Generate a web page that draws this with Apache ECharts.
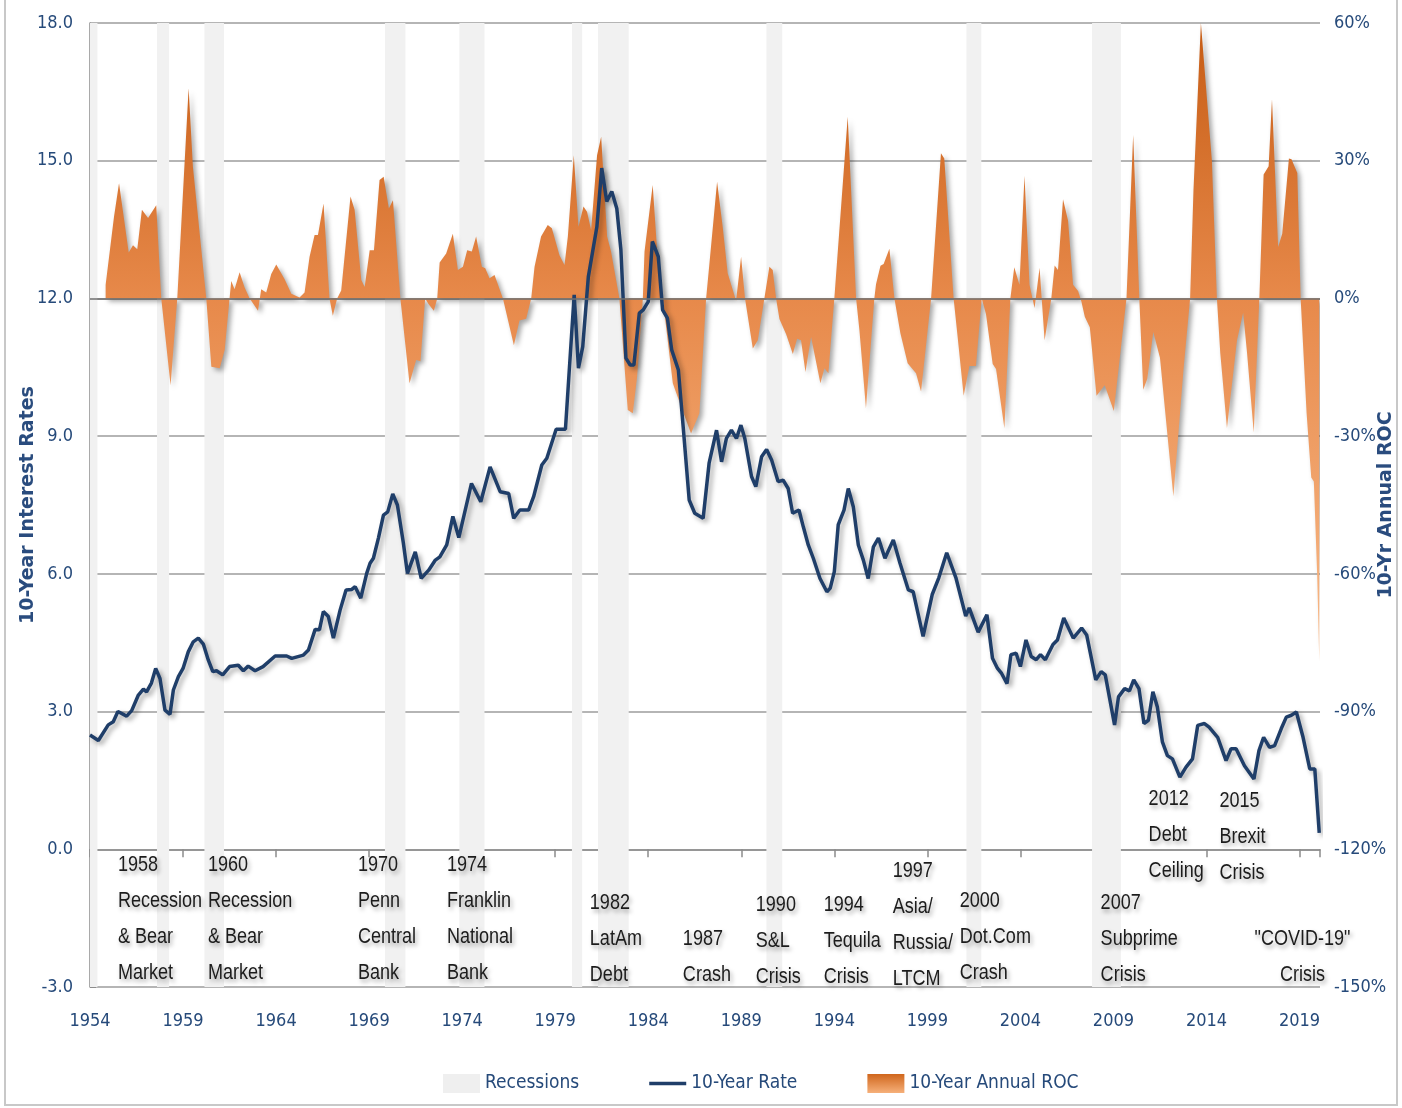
<!DOCTYPE html>
<html>
<head>
<meta charset="utf-8">
<title>10-Year Rate and 10-Year Annual ROC</title>
<script src="https://cdn.jsdelivr.net/npm/echarts@6.0.0/dist/echarts.min.js"></script>
<style>
  html, body { margin: 0; padding: 0; background: #ffffff; }
  #chart { width: 1402px; height: 1108px; }
</style>
</head>
<body>
<div id="chart"></div>
<script>
var BASE_YEAR = 1954;
var LAST_YEAR = 2020.1;

// 10-year treasury rate (%)
var rateYears = [1954.0, 1954.45, 1954.98, 1955.25, 1955.5, 1955.97, 1956.24, 1956.6, 1956.87, 1957.04, 1957.3, 1957.53, 1957.76, 1958.03, 1958.3, 1958.48, 1958.75, 1959.0, 1959.28, 1959.55, 1959.82, 1960.09, 1960.36, 1960.6, 1960.8, 1961.13, 1961.5, 1961.97, 1962.24, 1962.5, 1962.87, 1963.3, 1963.95, 1964.57, 1964.84, 1965.47, 1965.74, 1966.1, 1966.33, 1966.54, 1966.81, 1967.08, 1967.44, 1967.76, 1968.07, 1968.25, 1968.55, 1968.87, 1969.05, 1969.23, 1969.5, 1969.77, 1970.0, 1970.27, 1970.52, 1970.84, 1971.06, 1971.48, 1971.8, 1972.2, 1972.56, 1972.8, 1973.17, 1973.5, 1973.82, 1974.5, 1975.0, 1975.5, 1976.04, 1976.5, 1976.77, 1977.1, 1977.57, 1977.84, 1978.28, 1978.55, 1979.05, 1979.55, 1980.02, 1980.25, 1980.48, 1980.78, 1981.24, 1981.5, 1981.77, 1982.04, 1982.31, 1982.53, 1982.8, 1983.03, 1983.23, 1983.52, 1983.73, 1984.0, 1984.22, 1984.54, 1984.77, 1985.03, 1985.26, 1985.62, 1985.88, 1986.2, 1986.5, 1986.95, 1987.27, 1987.67, 1987.94, 1988.2, 1988.47, 1988.74, 1988.98, 1989.19, 1989.55, 1989.78, 1990.09, 1990.36, 1990.63, 1990.98, 1991.25, 1991.52, 1991.76, 1992.1, 1992.33, 1992.6, 1992.87, 1993.23, 1993.6, 1993.78, 1994.0, 1994.21, 1994.52, 1994.75, 1995.02, 1995.29, 1995.56, 1995.82, 1996.1, 1996.37, 1996.72, 1997.17, 1997.53, 1997.98, 1998.24, 1998.77, 1999.26, 1999.62, 2000.04, 2000.53, 2001.06, 2001.25, 2001.73, 2002.2, 2002.5, 2002.77, 2002.99, 2003.28, 2003.49, 2003.77, 2004.0, 2004.3, 2004.58, 2004.85, 2005.08, 2005.34, 2005.75, 2005.99, 2006.33, 2006.84, 2007.29, 2007.56, 2008.05, 2008.34, 2008.56, 2009.06, 2009.27, 2009.6, 2009.86, 2010.09, 2010.37, 2010.64, 2010.88, 2011.12, 2011.36, 2011.63, 2011.9, 2012.17, 2012.57, 2012.9, 2013.25, 2013.53, 2013.89, 2014.14, 2014.6, 2015.05, 2015.32, 2015.59, 2016.04, 2016.55, 2016.82, 2017.07, 2017.39, 2017.66, 2018.02, 2018.29, 2018.56, 2018.83, 2019.19, 2019.55, 2019.82, 2020.06];
var rateValues = [2.49, 2.37, 2.71, 2.78, 3.00, 2.90, 3.02, 3.36, 3.49, 3.43, 3.62, 3.94, 3.72, 3.03, 2.94, 3.47, 3.76, 3.94, 4.30, 4.52, 4.60, 4.47, 4.12, 3.87, 3.89, 3.80, 3.98, 4.01, 3.89, 3.99, 3.89, 3.98, 4.21, 4.21, 4.16, 4.23, 4.34, 4.79, 4.78, 5.18, 5.07, 4.60, 5.21, 5.65, 5.66, 5.72, 5.47, 6.01, 6.23, 6.34, 6.78, 7.28, 7.35, 7.74, 7.50, 6.67, 6.01, 6.48, 5.90, 6.08, 6.30, 6.37, 6.63, 7.25, 6.79, 7.97, 7.57, 8.33, 7.79, 7.75, 7.21, 7.39, 7.39, 7.68, 8.37, 8.52, 9.15, 9.15, 12.08, 10.48, 10.95, 12.47, 13.56, 14.84, 14.11, 14.33, 13.96, 13.06, 10.70, 10.55, 10.55, 11.68, 11.75, 11.93, 13.24, 12.91, 11.75, 11.57, 10.88, 10.44, 9.19, 7.61, 7.32, 7.21, 8.41, 9.13, 8.44, 8.95, 9.13, 8.95, 9.24, 8.95, 8.12, 7.90, 8.55, 8.71, 8.48, 8.01, 8.04, 7.86, 7.32, 7.39, 7.03, 6.63, 6.34, 5.90, 5.61, 5.69, 6.05, 7.07, 7.39, 7.86, 7.46, 6.63, 6.30, 5.90, 6.59, 6.78, 6.34, 6.74, 6.23, 5.65, 5.61, 4.64, 5.55, 5.92, 6.46, 5.92, 5.08, 5.26, 4.73, 5.11, 4.16, 3.94, 3.83, 3.61, 4.24, 4.27, 3.98, 4.56, 4.20, 4.13, 4.24, 4.13, 4.46, 4.56, 5.04, 4.60, 4.82, 4.67, 3.69, 3.87, 3.80, 2.71, 3.32, 3.50, 3.45, 3.69, 3.50, 2.74, 2.81, 3.43, 3.10, 2.34, 2.04, 1.97, 1.57, 1.79, 1.97, 2.70, 2.74, 2.66, 2.44, 1.93, 2.19, 2.19, 1.82, 1.53, 2.15, 2.44, 2.22, 2.26, 2.63, 2.88, 2.92, 2.99, 2.44, 1.75, 1.75, 0.36];

// 10-year annual rate of change (%)
var rocYears = [1954.84, 1955.29, 1955.56, 1956.08, 1956.31, 1956.54, 1956.79, 1957.12, 1957.56, 1957.83, 1958.33, 1958.69, 1959.3, 1959.53, 1960.25, 1960.52, 1960.97, 1961.24, 1961.5, 1961.59, 1961.77, 1962.04, 1962.31, 1962.58, 1963.03, 1963.2, 1963.47, 1963.74, 1964.01, 1964.46, 1964.82, 1965.26, 1965.53, 1965.8, 1966.07, 1966.25, 1966.55, 1966.87, 1967.05, 1967.28, 1967.5, 1968.0, 1968.22, 1968.58, 1968.76, 1969.03, 1969.26, 1969.56, 1969.78, 1970.06, 1970.28, 1970.68, 1971.17, 1971.53, 1971.76, 1972.01, 1972.19, 1972.48, 1972.66, 1972.79, 1973.14, 1973.5, 1973.77, 1974.04, 1974.27, 1974.52, 1974.75, 1975.06, 1975.24, 1975.47, 1975.74, 1975.96, 1976.19, 1976.78, 1977.08, 1977.44, 1977.71, 1977.89, 1978.24, 1978.6, 1978.82, 1979.23, 1979.5, 1979.68, 1980.0, 1980.25, 1980.52, 1980.71, 1980.93, 1981.25, 1981.47, 1981.79, 1982.0, 1982.45, 1982.9, 1983.17, 1983.4, 1983.71, 1983.8, 1984.24, 1984.51, 1984.78, 1985.32, 1985.77, 1986.3, 1986.75, 1987.11, 1987.25, 1987.7, 1988.0, 1988.27, 1988.72, 1988.99, 1989.2, 1989.62, 1989.89, 1990.24, 1990.51, 1990.69, 1990.87, 1991.05, 1991.41, 1991.77, 1992.0, 1992.21, 1992.45, 1992.75, 1993.25, 1993.47, 1993.68, 1994.0, 1994.72, 1995.17, 1995.35, 1995.7, 1996.15, 1996.24, 1996.48, 1996.65, 1996.96, 1997.23, 1997.55, 1997.94, 1998.39, 1998.66, 1999.2, 1999.73, 1999.91, 2000.41, 2000.63, 2000.95, 2001.26, 2001.61, 2001.92, 2002.15, 2002.51, 2002.69, 2003.14, 2003.46, 2003.67, 2003.95, 2004.22, 2004.49, 2004.76, 2005.03, 2005.3, 2005.66, 2005.84, 2006.02, 2006.29, 2006.56, 2006.83, 2007.1, 2007.28, 2007.46, 2007.73, 2008.09, 2008.53, 2009.02, 2009.7, 2010.06, 2010.39, 2010.6, 2010.82, 2011.14, 2011.5, 2012.22, 2012.76, 2013.12, 2013.3, 2013.7, 2014.29, 2014.56, 2014.74, 2015.1, 2015.64, 2015.97, 2016.18, 2016.54, 2016.84, 2017.07, 2017.34, 2017.52, 2017.85, 2018.07, 2018.43, 2018.57, 2018.88, 2019.06, 2019.38, 2019.63, 2019.77, 2019.95, 2020.06];
var rocValues = [3.0, 17.8, 25.1, 10.0, 11.6, 10.7, 19.3, 17.5, 20.3, 0, -18.9, 0, 45.8, 28.7, 0, -14.9, -15.2, -11.2, 0, 3.8, 2.0, 5.7, 2.4, 0, -2.7, 2.0, 1.3, 5.3, 7.4, 4.2, 1.0, 0.2, 1.3, 9.1, 13.8, 13.8, 20.7, 0, -3.8, 0, 1.7, 22.2, 19.3, 4.0, 2.5, 10.5, 10.5, 25.8, 26.5, 19.6, 21.4, 0, -18.5, -13.4, -13.7, 0, -1.2, -2.7, 0, 7.8, 9.8, 14.1, 6.2, 6.9, 10.5, 10.2, 13.5, 6.9, 6.6, 4.4, 5.1, 2.6, 0, -10.2, -4.8, -4.4, 0, 6.9, 13.5, 16.0, 15.3, 9.4, 7.3, 13.5, 31.2, 15.6, 20.0, 18.9, 14.9, 31.2, 35.2, 13.5, 10.2, 0, -24.3, -25.0, -17.1, 0, 10.2, 24.7, 8.4, 0, -18.5, -23.6, -29.4, -25.0, 0, 6.0, 25.4, 15.6, 5.5, -0.5, 9.1, 0, -10.9, -9.1, 0, 6.9, 6.2, 0, -4.5, -7.8, -12.1, -8.8, -9.1, -16.0, -8.4, -18.5, -15.2, -16.3, 0, 39.6, 0, -7.0, -23.9, 0, 3.1, 7.1, 7.5, 10.8, 0, -7.6, -14.1, -16.3, -20.3, 0, 31.6, 30.5, 0, -8.5, -21.2, -14.7, -14.7, 0, -3.4, -14.3, -15.4, -28.3, 0, 6.8, 3.0, 26.7, 3.0, -2.1, 6.7, -9.1, 0, 7.2, 6.2, 21.6, 17.0, 3.0, 1.6, -0.7, -4.0, -6.3, -21.2, -18.9, -24.5, 0, 35.6, 0, -19.9, -17.5, -7.3, -12.9, -43.1, -15.7, 0, 23.5, 60, 30, 0, -11.9, -28.2, -9.1, -3.1, -11.9, -29.2, 0, 27.0, 28.8, 43.4, 11.2, 14.1, 30.5, 30.3, 27.3, 0, -25.0, -39.0, -39.9, -60.4, -79.0];

// recession periods (start, end)
var recessionStarts = [1954.0, 1957.6, 1960.15, 1969.85, 1973.85, 1979.9, 1981.3, 1990.35, 2001.1, 2007.85];
var recessionEnds   = [1954.4, 1958.25, 1961.2, 1970.95, 1975.2, 1980.45, 1982.95, 1991.2, 2001.9, 2009.4];

// event annotations: x in years, top of text block on the rate axis
var annoYears  = [1955.5, 1960.34, 1968.4, 1973.18, 1980.86, 1985.86, 1989.78, 1993.43, 1997.14, 2000.74, 2008.31, 2010.89, 2014.7, 2019.16];
var annoLevels = [0.05, 0.05, 0.05, 0.05, -0.78, -1.56, -0.82, -0.82, -0.08, -0.73, -0.78, 1.49, 1.45, -1.56];
var annoTexts  = [
  '1958\nRecession\n& Bear\nMarket',
  '1960\nRecession\n& Bear\nMarket',
  '1970\nPenn\nCentral\nBank',
  '1974\nFranklin\nNational\nBank',
  '1982\nLatAm\nDebt',
  '1987\nCrash',
  '1990\nS&L\nCrisis',
  '1994\nTequila\nCrisis',
  '1997\nAsia/\nRussia/\nLTCM',
  '2000\nDot.Com\nCrash',
  '2007\nSubprime\nCrisis',
  '2012\nDebt\nCeiling',
  '2015\nBrexit\nCrisis',
  '"COVID-19"\nCrisis'
];
var annoAlign = ['left', 'left', 'left', 'left', 'left', 'left', 'left', 'left', 'left', 'left', 'left', 'left', 'left', 'center'];

var NARROW = "'DejaVu Sans Condensed', 'Liberation Sans', sans-serif";
var BLUE = '#264a7a';
var LINE_BLUE = '#1f3e69';

function toX(y) { return +(y - BASE_YEAR).toFixed(3); }

var rateData = rateYears.map(function (y, i) { return [toX(y), rateValues[i]]; });
var rocData = rocYears.map(function (y, i) { return [toX(y), rocValues[i]]; });
var recessionAreas = recessionStarts.map(function (s, i) {
  return [{ xAxis: toX(s) }, { xAxis: toX(recessionEnds[i]) }];
});
var annoData = annoYears.map(function (y, i) { return [toX(y), annoLevels[i], i]; });

var rocGradient = new echarts.graphic.LinearGradient(0, 0, 0, 1, [
  { offset: 0, color: '#c65c14' },
  { offset: 0.43, color: '#e7894a' },
  { offset: 1, color: '#f9bb8a' }
]);
var legendGradient = new echarts.graphic.LinearGradient(0, 0, 0, 1, [
  { offset: 0, color: '#d0661c' },
  { offset: 1, color: '#f6b07a' }
]);

// event notes: narrow text, placed through the axes
function renderNote(params, api) {
  var p = api.coord([api.value(0), api.value(1)]);
  var i = api.value(2);
  return {
    type: 'text',
    x: p[0],
    y: p[1],
    scaleX: 0.82,
    silent: true,
    style: {
      text: annoTexts[i],
      align: annoAlign[i],
      verticalAlign: 'top',
      fontFamily: 'Liberation Sans',
      fontSize: 22,
      lineHeight: 36,
      fill: '#1c1c1c',
      textShadowColor: 'rgba(0,0,0,0.35)',
      textShadowBlur: 4,
      textShadowOffsetX: 2,
      textShadowOffsetY: 3
    }
  };
}

var chart = echarts.init(document.getElementById('chart'));
chart.setOption({
  backgroundColor: '#ffffff',
  animation: false,
  grid: { left: 90, right: 82, top: 23, bottom: 121, containLabel: false, outerBoundsMode: 'none' },
  graphic: [{
    type: 'polyline',
    shape: { points: [[5, 0], [5, 1105], [1397, 1105], [1397, 0]] },
    style: { stroke: '#c8c8c8', lineWidth: 2, fill: null },
    silent: true
  }],
  legend: {
    left: 438,
    top: 1069,
    itemWidth: 37,
    itemHeight: 19,
    itemGap: 70,
    textStyle: { fontFamily: NARROW, fontSize: 19, color: BLUE },
    data: [
      { name: 'Recessions', icon: 'rect', itemStyle: { color: '#efefef' } },
      { name: '10-Year Rate', icon: 'path://M0,0H40V4H0Z', itemStyle: { color: LINE_BLUE } },
      { name: '10-Year Annual ROC', icon: 'rect', itemStyle: { color: legendGradient } }
    ]
  },
  xAxis: [{
    type: 'value',
    min: 0,
    max: LAST_YEAR - BASE_YEAR,
    interval: 5,
    position: 'bottom',
    axisLine: { show: false, onZero: false },
    axisTick: { show: false },
    splitLine: { show: false },
    axisLabel: {
      showMaxLabel: false,
      margin: 25,
      fontFamily: NARROW,
      fontSize: 18,
      color: BLUE,
      formatter: function (v) { return String(BASE_YEAR + v); }
    }
  }, {
    type: 'value',
    min: 0,
    max: LAST_YEAR - BASE_YEAR,
    interval: 5,
    position: 'bottom',
    axisLine: { show: true, onZero: true, onZeroAxisIndex: 0, lineStyle: { color: '#8c8c8c', width: 1.5 } },
    axisTick: { show: true, length: 8, lineStyle: { color: '#8c8c8c', width: 1.5 } },
    axisLabel: { show: false },
    splitLine: { show: false }
  }],
  yAxis: [{
    type: 'value',
    min: -3,
    max: 18,
    interval: 3,
    name: '10-Year Interest Rates',
    nameLocation: 'middle',
    nameRotate: 90,
    nameGap: 52,
    nameMoveOverlap: false,
    nameTextStyle: { fontFamily: 'DejaVu Sans', fontWeight: 'bold', fontSize: 19, color: '#2a4c7e' },
    axisLine: { show: false },
    axisTick: { show: false },
    splitLine: { lineStyle: { color: '#9c9c9c', width: 1.5 } },
    axisLabel: {
      margin: 17,
      fontFamily: NARROW,
      fontSize: 18,
      color: BLUE,
      formatter: function (v) { return v.toFixed(1); }
    }
  }, {
    type: 'value',
    min: -150,
    max: 60,
    interval: 30,
    position: 'right',
    name: '10-Yr Annual ROC',
    nameLocation: 'middle',
    nameRotate: 90,
    nameGap: 57,
    nameMoveOverlap: false,
    nameTextStyle: { fontFamily: 'DejaVu Sans', fontWeight: 'bold', fontSize: 19, color: '#2a4c7e' },
    axisLine: { show: true, lineStyle: { color: '#8c8c8c', width: 1.5 } },
    axisTick: { show: true, length: 6, lineStyle: { color: '#8c8c8c' } },
    splitLine: { show: false },
    axisLabel: {
      margin: 14,
      fontFamily: NARROW,
      fontSize: 18,
      color: BLUE,
      formatter: '{value}%'
    }
  }],
  series: [{
    name: 'Recessions',
    type: 'line',
    data: [],
    itemStyle: { color: '#efefef' },
    markArea: {
      silent: true,
      itemStyle: { color: '#f1f1f1' },
      data: recessionAreas
    }
  }, {
    name: '10-Year Annual ROC',
    type: 'line',
    yAxisIndex: 1,
    data: rocData,
    symbol: 'none',
    lineStyle: { width: 0 },
    itemStyle: { color: '#e7894a' },
    areaStyle: {
      origin: 0,
      color: rocGradient,
      opacity: 1,
      shadowColor: 'rgba(0,0,0,0.35)',
      shadowBlur: 5,
      shadowOffsetX: 3,
      shadowOffsetY: 3
    },
    markLine: {
      silent: true,
      symbol: 'none',
      label: { show: false },
      lineStyle: { color: '#6f6f6f', width: 1.5, type: 'solid' },
      data: [{ yAxis: 0 }]
    }
  }, {
    name: '10-Year Rate',
    type: 'line',
    data: rateData,
    symbol: 'none',
    itemStyle: { color: LINE_BLUE },
    lineStyle: {
      color: LINE_BLUE,
      width: 3.5,
      shadowColor: 'rgba(0,0,0,0.35)',
      shadowBlur: 5,
      shadowOffsetX: 3,
      shadowOffsetY: 3
    }
  }, {
    name: 'events',
    type: 'custom',
    silent: true,
    data: annoData,
    renderItem: renderNote
  }]
});
</script>
</body>
</html>
